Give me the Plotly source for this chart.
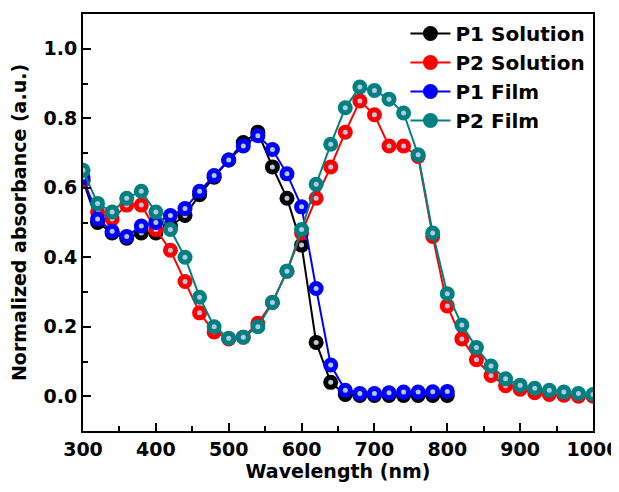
import plotly.graph_objects as go

wl_p1 = [300, 320, 340, 360, 380, 400, 420, 440, 460, 480, 500, 520, 540, 560, 580,
         600, 620, 640, 660, 680, 700, 720, 740, 760, 780, 800]
wl_p2 = [300, 320, 340, 360, 380, 400, 420, 440, 460, 480, 500, 520, 540, 560, 580,
         600, 620, 640, 660, 680, 700, 720, 740, 760, 780, 800, 820, 840, 860, 880,
         900, 920, 940, 960, 980, 1000]

p1_solution = [0.62, 0.50, 0.47, 0.455, 0.47, 0.47, 0.49, 0.52, 0.58, 0.63, 0.68, 0.73,
               0.76, 0.66, 0.57, 0.435, 0.155, 0.04, 0.005, 0.002, 0.002, 0.002, 0.002,
               0.002, 0.002, 0.002]
p1_film = [0.63, 0.51, 0.475, 0.46, 0.49, 0.50, 0.52, 0.54, 0.59, 0.635, 0.68, 0.72,
           0.75, 0.71, 0.64, 0.545, 0.31, 0.09, 0.017, 0.008, 0.008, 0.01, 0.012,
           0.012, 0.013, 0.014]
p2_solution = [0.62, 0.53, 0.51, 0.55, 0.55, 0.48, 0.42, 0.33, 0.24, 0.185, 0.165, 0.17,
               0.21, 0.27, 0.36, 0.47, 0.57, 0.66, 0.76, 0.85, 0.81, 0.72, 0.72, 0.69,
               0.46, 0.26, 0.165, 0.105, 0.06, 0.03, 0.02, 0.01, 0.005, 0.003, 0.0, 0.0]
p2_film = [0.65, 0.555, 0.53, 0.57, 0.59, 0.53, 0.48, 0.40, 0.285, 0.20, 0.167, 0.17,
           0.20, 0.27, 0.36, 0.48, 0.61, 0.725, 0.83, 0.89, 0.88, 0.855, 0.815, 0.695,
           0.47, 0.295, 0.205, 0.14, 0.087, 0.05, 0.032, 0.023, 0.017, 0.012, 0.008, 0.005]

series = [
    ("P1 Solution", wl_p1, p1_solution, "#000000"),
    ("P2 Solution", wl_p2, p2_solution, "#ff0000"),
    ("P1 Film", wl_p1, p1_film, "#0000ff"),
    ("P2 Film", wl_p2, p2_film, "#008080"),
]

FONT = "DejaVu Sans"
fig = go.Figure()
for name, x, y, c in series:
    fig.add_trace(go.Scatter(
        x=x, y=y, name="<b>" + name + "</b>", mode="lines+markers",
        legendgroup=name,
        line=dict(color=c, width=2),
        marker=dict(color=c, size=15, line=dict(width=0)),
    ))
    # specular highlight on each sphere-like marker
    fig.add_trace(go.Scatter(
        x=x, y=y, mode="markers", legendgroup=name, showlegend=False,
        hoverinfo="skip",
        marker=dict(color="#b4c8e0", size=5, line=dict(width=0)),
    ))

axis_common = dict(
    showline=True, linecolor="black", linewidth=2, mirror=True,
    ticks="inside", ticklen=8, tickwidth=2, tickcolor="black",
    showgrid=False, zeroline=False, automargin=False,
    ticklabeloverflow="allow",
    tickfont=dict(family=FONT, size=19, color="black"),
    title_font=dict(family=FONT, size=19, color="black"),
)

fig.update_xaxes(range=[300, 1000], dtick=100, title_text="<b>Wavelength (nm)</b>",
                 title_standoff=6,
                 minor=dict(ticks="inside", ticklen=5, tickwidth=2, tickcolor="black", dtick=50),
                 tickprefix="<b>", ticksuffix="</b>", **axis_common)
fig.update_yaxes(range=[-0.1, 1.1], dtick=0.2, tickformat=".1f",
                 title_text="<b>Normalized absorbance (a.u.)</b>",
                 title_standoff=12,
                 minor=dict(ticks="inside", ticklen=5, tickwidth=2, tickcolor="black", dtick=0.1),
                 tickprefix="<b>", ticksuffix="</b>", **axis_common)

# page body has an 8px margin, so the figure is sized to fit the 619x492 window
fig.update_layout(
    width=611, height=484,
    margin=dict(l=75, r=26, t=6, b=61),
    plot_bgcolor="white", paper_bgcolor="white",
    font=dict(family=FONT, color="black"),
    legend=dict(x=0.995, y=1.0, xanchor="right", yanchor="top",
                bgcolor="rgba(0,0,0,0)", borderwidth=0,
                font=dict(family=FONT, size=20, color="black"),
                itemwidth=40, tracegroupgap=0),
    showlegend=True,
)

fig.write_html("out.html")
